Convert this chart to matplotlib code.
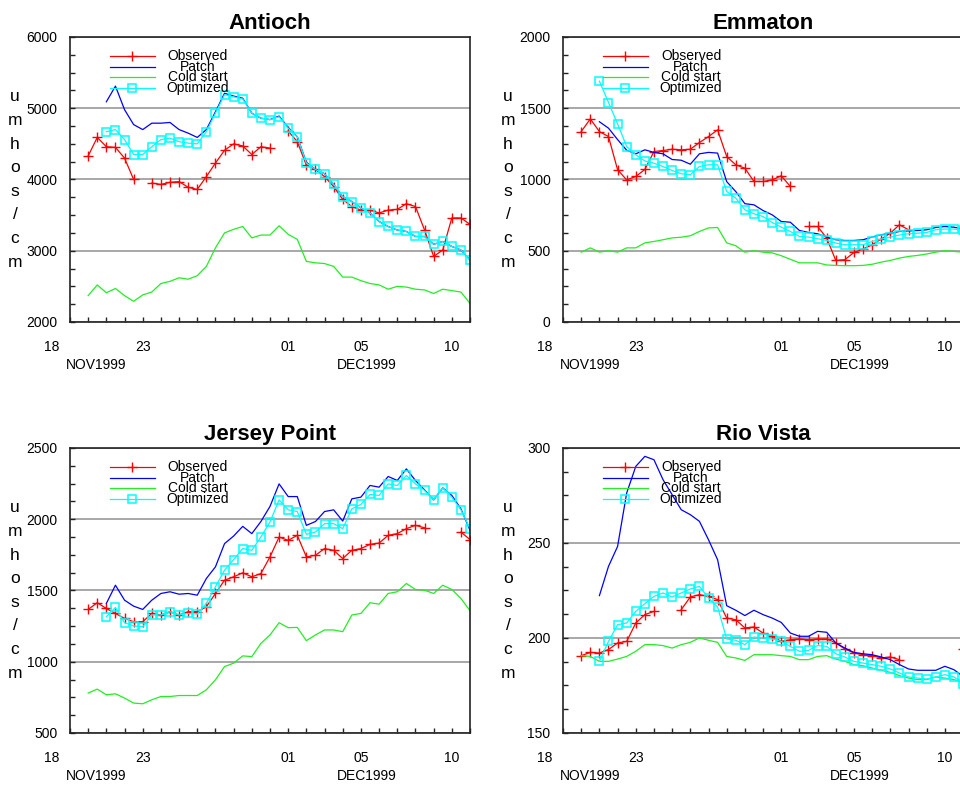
import numpy as np
import matplotlib
matplotlib.use("Agg")
import matplotlib.pyplot as plt
from matplotlib.ticker import MultipleLocator, FixedLocator

plt.rcParams["font.family"] = ["Liberation Sans", "DejaVu Sans"]

N = np.nan
# 12-hourly samples, x = days after 18 NOV 1999 (1 -> 19 NOV ... 23 -> 11 DEC)
days = np.arange(1, 23.01, 0.5)
tick_days = [5, 13, 17, 22]
tick_labels = ["23", "01", "05", "10"]

# ---- Antioch ----
ant_obs = [N, N, 4330, 4590, 4460, 4450, 4300, 4000, N, 3950,
           3930, 3960, 3970, 3890, 3860, 4040, 4230, 4410, 4500, 4470,
           4350, 4460, 4440, N, 4680, 4530, 4200, 4140, 4040, 3900,
           3720, 3620, 3570, 3570, 3530, 3570, 3580, 3660, 3620, 3290,
           2920, 3010, 3460, 3460, 3370]
ant_patch = [N, N, N, N, 5090, 5310, 4980, 4770, 4700, 4790,
             4790, 4800, 4700, 4650, 4590, 4700, 4950, 5210, 5170, 5140,
             4930, 4860, 4840, 4890, 4730, 4600, 4240, 4140, 4080, 3930,
             3760, 3690, 3600, 3530, 3410, 3340, 3290, 3270, 3200, 3200,
             3090, 3130, 3060, 3010, 2870]
ant_cold = [N, N, 2370, 2520, 2410, 2470, 2370, 2290, 2380, 2420,
            2540, 2570, 2620, 2600, 2650, 2780, 3040, 3250, 3300, 3340,
            3180, 3220, 3220, 3350, 3230, 3160, 2850, 2830, 2820, 2780,
            2630, 2630, 2580, 2540, 2520, 2460, 2500, 2490, 2460, 2450,
            2400, 2460, 2440, 2420, 2260]
ant_opt = [N, N, N, N, 4670, 4700, 4560, 4350, 4350, 4460,
           4560, 4580, 4530, 4510, 4500, 4670, 4930, 5190, 5160, 5130,
           4930, 4860, 4840, 4880, 4720, 4600, 4230, 4140, 4080, 3930,
           3760, 3690, 3600, 3530, 3410, 3340, 3290, 3270, 3200, 3200,
           3090, 3130, 3060, 3010, 2870]

# ---- Emmaton ----
emm_obs = [N, N, 1336, 1425, 1336, 1301, 1068, 997, 1021, 1070,
           1196, 1203, 1212, 1208, 1212, 1259, 1301, 1348, 1161, 1103,
           1079, 986, 986, 997, 1026, 951, N, 670, 670, 589,
           432, 437, 488, 512, 542, 582, 623, 682, 647, N,
           N, N, N, N, 660]
emm_patch = [N, N, N, N, 1405, 1360, 1280, 1205, 1180, 1208,
             1190, 1180, 1140, 1135, 1107, 1180, 1190, 1185, 985, 915,
             830, 822, 782, 752, 705, 700, 642, 628, 619, 596,
             577, 572, 572, 577, 596, 612, 623, 635, 640, 642,
             647, 663, 670, 665, 652]
emm_cold = [N, N, 490, 520, 490, 500, 490, 520, 520, 555,
            565, 577, 590, 595, 605, 635, 660, 663, 555, 535,
            490, 500, 490, 485, 465, 440, 415, 415, 415, 400,
            397, 395, 395, 397, 405, 420, 432, 448, 460, 467,
            477, 490, 500, 495, 490]
emm_opt = [N, N, N, N, 1690, 1540, 1390, 1231, 1173, 1130,
           1114, 1091, 1063, 1040, 1033, 1091, 1103, 1103, 916, 869,
           787, 759, 740, 698, 666, 635, 600, 596, 584, 572,
           554, 542, 542, 542, 565, 582, 596, 610, 619, 623,
           628, 647, 652, 652, 642]

# ---- Jersey Point ----
jer_obs = [N, N, 1367, 1414, 1374, 1339, 1304, 1281, 1281, 1339,
           1328, 1351, 1328, 1351, 1351, 1386, 1479, 1572, 1596, 1624,
           1596, 1619, 1736, 1875, 1852, 1887, 1736, 1747, 1794, 1782,
           1724, 1782, 1794, 1824, 1833, 1887, 1899, 1934, 1957, 1940,
           N, N, N, 1910, 1857]
jer_patch = [N, N, N, N, 1409, 1537, 1432, 1390, 1367, 1432,
             1479, 1491, 1474, 1479, 1467, 1584, 1666, 1829, 1882, 1950,
             1899, 1984, 2090, 2248, 2159, 2159, 1957, 1984, 2054, 2066,
             1987, 2143, 2155, 2237, 2225, 2300, 2272, 2353, 2272, 2206,
             2136, 2220, 2167, 2073, 1922]
jer_cold = [N, N, 780, 808, 768, 775, 745, 710, 705, 733,
            756, 756, 763, 763, 763, 803, 873, 966, 990, 1041,
            1036, 1129, 1188, 1274, 1239, 1241, 1148, 1188, 1223, 1223,
            1211, 1328, 1339, 1414, 1404, 1479, 1491, 1549, 1507, 1502,
            1479, 1537, 1507, 1444, 1358]
jer_opt = [N, N, N, N, 1316, 1381, 1274, 1251, 1246, 1328,
           1328, 1351, 1328, 1339, 1335, 1409, 1526, 1642, 1717, 1794,
           1782, 1876, 1981, 2136, 2066, 2054, 1894, 1910, 1969, 1969,
           1934, 2073, 2104, 2174, 2167, 2248, 2237, 2307, 2248, 2202,
           2136, 2220, 2155, 2066, 1934]

# ---- Rio Vista ----
rio_obs = [N, N, 190.7, 192.4, 192.1, 193.9, 197.4, 198.2, 207.9, 212.3,
           214.0, N, N, 214.9, 221.6, 222.8, 221.9, 220.2, 210.5, 209.6,
           205.3, 205.8, 202.6, 200.9, 198.2, 199.1, 199.5, 199.1, 199.5, 199.5,
           197.4, 194.2, 192.1, 191.2, 190.7, 189.5, 190.0, 188.6, N, N,
           N, N, N, N, 194.0]
rio_patch = [N, N, N, N, 222.3, 237.7, 248.2, 276.3, 290.3, 295.6,
             293.8, 283.3, 275.4, 267.5, 264.9, 261.4, 251.7, 241.2, 217.0, 214.6,
             211.8, 214.6, 212.3, 210.5, 208.2, 202.6, 200.9, 200.9, 203.5, 203.0,
             197.4, 194.7, 192.4, 191.7, 191.2, 190.0, 188.6, 186.0, 183.7, 183.0,
             183.0, 183.0, 185.1, 183.3, 179.8]
rio_cold = [N, N, 190.7, 190.3, 187.7, 187.7, 188.9, 190.3, 193.0, 196.5,
            196.5, 196.0, 194.7, 196.5, 197.7, 200.0, 198.8, 197.7, 190.3, 189.5,
            188.2, 191.2, 191.2, 191.2, 190.7, 190.3, 188.6, 188.6, 190.3, 190.7,
            188.9, 187.7, 186.0, 185.4, 184.2, 183.0, 181.9, 180.2, 178.9, 178.1,
            178.1, 179.5, 178.9, 178.1, 176.3]
rio_opt = [N, N, N, N, 187.7, 198.2, 207.0, 207.9, 214.0, 218.1,
           221.9, 223.7, 221.6, 223.7, 225.8, 227.2, 221.0, 216.3, 199.5, 198.8,
           196.5, 200.5, 200.0, 199.5, 198.2, 195.6, 193.0, 193.5, 196.0, 195.6,
           191.7, 190.0, 187.7, 186.8, 186.0, 185.1, 183.7, 181.6, 179.5, 178.9,
           178.4, 179.5, 180.7, 179.5, 176.0]

RED, BLUE, GREEN, CYAN = "#ff0000", "#0000ff", "#22ee22", "#00ffff"
STYLES = [
    ("Observed", dict(color=RED, lw=0.9, marker="+", ms=6.5, mew=1.0)),
    ("Patch", dict(color=BLUE, lw=0.9)),
    ("Cold start", dict(color=GREEN, lw=0.9)),
    ("Optimized", dict(color=CYAN, lw=0.9, marker="s", ms=5.5, mfc="none", mew=1.1)),
]


def panel(rect, title, series, ylim, major, minor):
    ax = fig.add_axes(rect)
    for (label, st), vals in zip(STYLES, series):
        ax.plot(days, vals, **st)
    ax.set_xlim(1, 23)
    ax.set_ylim(*ylim)
    ax.xaxis.set_major_locator(FixedLocator(tick_days))
    ax.set_xticklabels(tick_labels)
    ax.xaxis.set_minor_locator(MultipleLocator(1))
    ax.yaxis.set_major_locator(MultipleLocator(major))
    ax.yaxis.set_minor_locator(MultipleLocator(minor))
    ax.tick_params(which="both", direction="in", length=3.5, width=1.0,
                   labelsize=10, color="#222222")
    ax.tick_params(axis="x", pad=13)
    ax.tick_params(axis="y", pad=9)
    ax.yaxis.grid(True, which="major", color="#a0a0a0", lw=1.3)
    ax.set_axisbelow(True)
    for sp in ax.spines.values():
        sp.set_linewidth(1.2)
        sp.set_color("#222222")
    ax.set_title(title, fontsize=16, fontweight="bold", pad=6)

    xt = ax.get_xaxis_transform()
    ax.text(0, -0.063, "18", transform=xt, ha="center", va="top", fontsize=10)
    ax.text(0.8, -0.151, "NOV1999", transform=xt, ha="left", va="center", fontsize=10)
    ax.text(15.7, -0.151, "DEC1999", transform=xt, ha="left", va="center", fontsize=10)

    ax.text(-0.1375, 0.5, "u\nm\nh\no\ns\n/\nc\nm", transform=ax.transAxes,
            ha="center", va="center", fontsize=12.5, linespacing=1.72)

    # legend drawn by hand: short sample lines, centred labels, tight rows
    for i, (label, st) in enumerate(STYLES):
        y = 0.933 - i * 0.0375
        line = {k: v for k, v in st.items() if k in ("color", "lw")}
        ax.plot([0.1, 0.2125], [y, y], transform=ax.transAxes, clip_on=False, **line)
        if "marker" in st:
            ax.plot([0.156], [y], transform=ax.transAxes, ls="none", clip_on=False, **st)
        ax.text(0.32, y, label, transform=ax.transAxes, ha="center", va="center",
                fontsize=10)
    return ax


fig = plt.figure(figsize=(9.6, 7.88), dpi=100)
W, H = 0.4167, 0.3617
panel([0.0729, 0.5914, W, H], "Antioch",
      [ant_obs, ant_patch, ant_cold, ant_opt], (2000, 6000), 1000, 250)
panel([0.5865, 0.5914, W, H], "Emmaton",
      [emm_obs, emm_patch, emm_cold, emm_opt], (0, 2000), 500, 125)
panel([0.0729, 0.0698, W, H], "Jersey Point",
      [jer_obs, jer_patch, jer_cold, jer_opt], (500, 2500), 500, 125)
panel([0.5865, 0.0698, W, H], "Rio Vista",
      [rio_obs, rio_patch, rio_cold, rio_opt], (150, 300), 50, 12.5)

fig.savefig("out.png", dpi=100)
